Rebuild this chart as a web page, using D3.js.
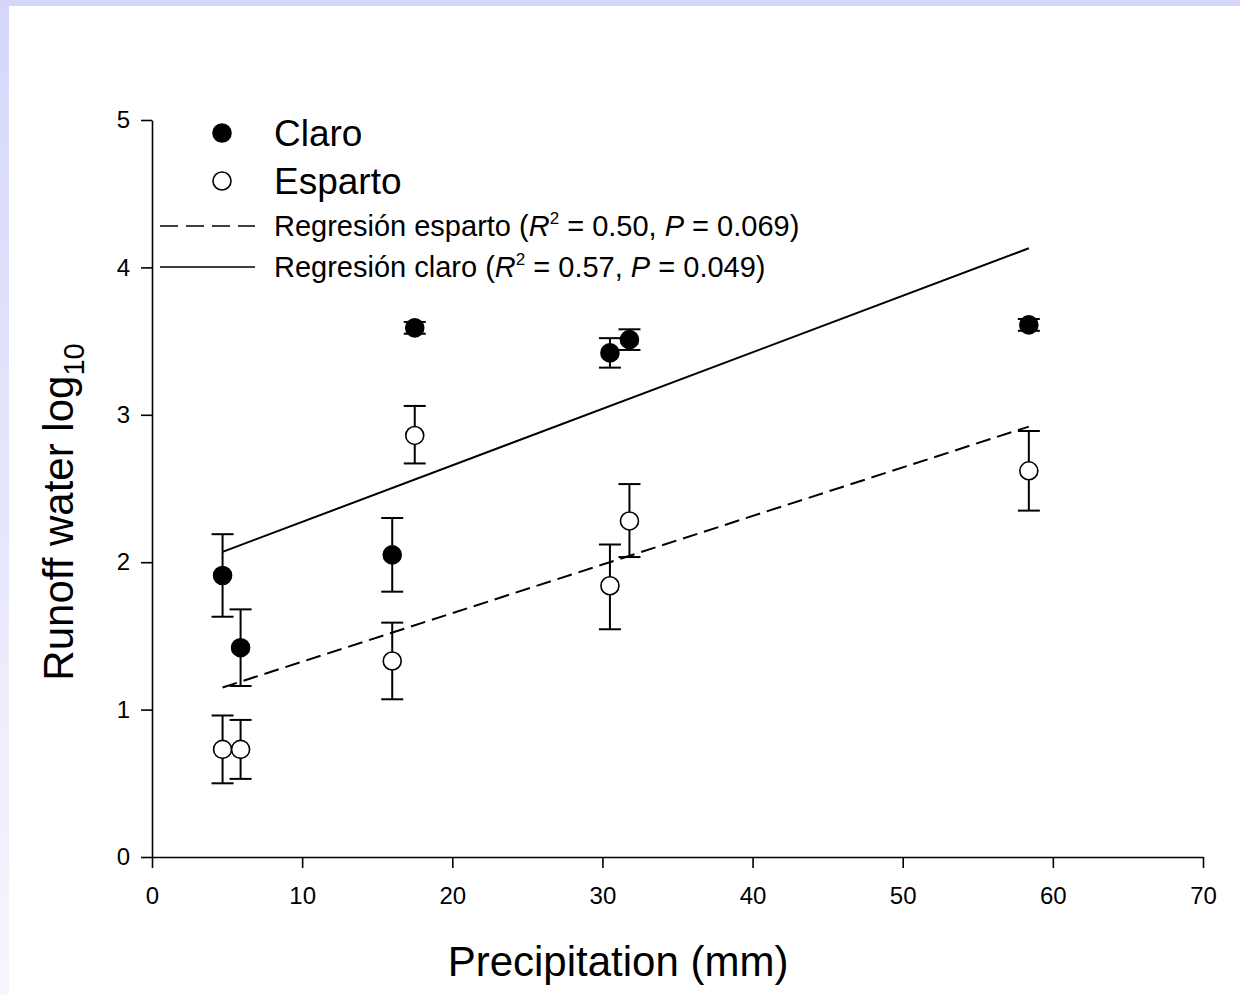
<!DOCTYPE html>
<html>
<head>
<meta charset="utf-8">
<script src="https://cdn.jsdelivr.net/npm/d3@7"></script>
<style>
  html, body { margin: 0; padding: 0; background: #fff; }
  svg { display: block; font-family: Arial, "Liberation Sans", sans-serif; }
</style>
</head>
<body>
<svg id="chart" width="1240" height="995"></svg>
<script>
// ---- data ----
const precip = [4.7, 5.9, 16.0, 17.5, 30.5, 31.8, 58.4];
const claroMean = [1.91, 1.42, 2.05, 3.59, 3.42, 3.51, 3.61];
const claroLow  = [1.63, 1.16, 1.80, 3.55, 3.32, 3.44, 3.57];
const claroHigh = [2.19, 1.68, 2.30, 3.63, 3.52, 3.58, 3.65];
const espartoMean = [0.73, 0.73, 1.33, 2.86, 1.84, 2.28, 2.62];
const espartoLow  = [0.50, 0.53, 1.07, 2.67, 1.545, 2.035, 2.35];
const espartoHigh = [0.96, 0.93, 1.59, 3.06, 2.12, 2.53, 2.89];
const regX = [4.7, 58.4];
const regClaroY = [2.07, 4.13];
const regEspartoY = [1.15, 2.92];
const xTicks = [0, 10, 20, 30, 40, 50, 60, 70];
const yTicks = [0, 1, 2, 3, 4, 5];

const svg = d3.select("#chart");

// background frame
const defs = svg.append("defs");
const grad = defs.append("linearGradient").attr("id", "lg").attr("x1", 0).attr("y1", 0).attr("x2", 0).attr("y2", 1);
grad.append("stop").attr("offset", "0%").attr("stop-color", "rgb(214,214,250)");
grad.append("stop").attr("offset", "100%").attr("stop-color", "rgb(246,246,254)");
svg.append("rect").attr("x", 0).attr("y", 0).attr("width", 9).attr("height", 995).attr("fill", "url(#lg)");
svg.append("rect").attr("x", 0).attr("y", 0).attr("width", 1240).attr("height", 6).attr("fill", "rgb(214,214,250)");

const x = d3.scaleLinear().domain([0, 70]).range([152, 1203]);
const y = d3.scaleLinear().domain([0, 5]).range([857, 120]);

// axes
const xAxis = d3.axisBottom(x).tickValues(xTicks).tickFormat(d3.format("d")).tickSize(11).tickPadding(19).tickSizeOuter(0);
const yAxis = d3.axisLeft(y).tickValues(yTicks).tickFormat(d3.format("d")).tickSize(11).tickPadding(11).tickSizeOuter(0);

const gx = svg.append("g").attr("transform", `translate(0,${y(0)})`).call(xAxis);
const gy = svg.append("g").attr("transform", `translate(${x(0)},0)`).call(yAxis);
[gx, gy].forEach(g => {
  g.attr("font-size", null).attr("font-family", null);
  g.select(".domain").attr("stroke", "#000").attr("stroke-width", 1.6);
  g.selectAll(".tick line").attr("stroke", "#000").attr("stroke-width", 1.6);
  g.selectAll(".tick text").attr("fill", "#000").style("font-size", "24px");
});

// regression lines
const line = d3.line().x(d => x(d[0])).y(d => y(d[1]));
svg.append("path").datum(regX.map((v, i) => [v, regClaroY[i]]))
  .attr("d", line).attr("stroke", "#000").attr("stroke-width", 2).attr("fill", "none");
svg.append("path").datum(regX.map((v, i) => [v, regEspartoY[i]]))
  .attr("d", line).attr("stroke", "#000").attr("stroke-width", 2).attr("fill", "none")
  .attr("stroke-dasharray", "15,7");

// error bars + points
function drawSeries(mean, low, high, filled) {
  const g = svg.append("g");
  const data = precip.map((p, i) => ({p, m: mean[i], lo: low[i], hi: high[i]}));
  const cap = 11;
  data.forEach(d => {
    g.append("line").attr("x1", x(d.p)).attr("x2", x(d.p)).attr("y1", y(d.lo)).attr("y2", y(d.hi))
      .attr("stroke", "#000").attr("stroke-width", 2);
    [d.lo, d.hi].forEach(v => {
      g.append("line").attr("x1", x(d.p) - cap).attr("x2", x(d.p) + cap).attr("y1", y(v)).attr("y2", y(v))
        .attr("stroke", "#000").attr("stroke-width", 2);
    });
  });
  g.selectAll("circle").data(data).join("circle")
    .attr("cx", d => x(d.p)).attr("cy", d => y(d.m)).attr("r", 9)
    .attr("fill", filled ? "#000" : "#fff").attr("stroke", "#000").attr("stroke-width", 1.6);
}
drawSeries(espartoMean, espartoLow, espartoHigh, false);
drawSeries(claroMean, claroLow, claroHigh, true);

// legend
const lg = svg.append("g");
lg.append("circle").attr("cx", 222).attr("cy", 133).attr("r", 9).attr("fill", "#000").attr("stroke", "#000").attr("stroke-width", 1.6);
lg.append("text").attr("x", 274).attr("y", 146).attr("font-size", 37).text("Claro");
lg.append("circle").attr("cx", 222).attr("cy", 181).attr("r", 9).attr("fill", "#fff").attr("stroke", "#000").attr("stroke-width", 1.6);
lg.append("text").attr("x", 274).attr("y", 194).attr("font-size", 37).text("Esparto");
lg.append("line").attr("x1", 160).attr("x2", 255).attr("y1", 226).attr("y2", 226).attr("stroke", "#000").attr("stroke-width", 1.6).attr("stroke-dasharray", "18,8");
lg.append("line").attr("x1", 160).attr("x2", 255).attr("y1", 267).attr("y2", 267).attr("stroke", "#000").attr("stroke-width", 1.6);

function regLabel(yPos, name, r2, p) {
  const t = lg.append("text").attr("x", 274).attr("y", yPos).attr("font-size", 29);
  t.append("tspan").text(`Regresión ${name} (`);
  t.append("tspan").attr("font-style", "italic").text("R");
  t.append("tspan").attr("font-size", 17).attr("dy", -12).text("2");
  t.append("tspan").attr("dy", 12).text(` = ${r2}, `);
  t.append("tspan").attr("font-style", "italic").text("P");
  t.append("tspan").text(` = ${p})`);
}
regLabel(236, "esparto", "0.50", "0.069");
regLabel(277, "claro", "0.57", "0.049");

// axis titles
svg.append("text").attr("x", 618).attr("y", 976).attr("text-anchor", "middle").attr("font-size", 42).text("Precipitation (mm)");
const yt = svg.append("text").attr("transform", "translate(73,512) rotate(-90)").attr("text-anchor", "middle").attr("font-size", 42);
yt.append("tspan").text("Runoff water log");
yt.append("tspan").attr("font-size", 29).attr("dy", 11).text("10");
</script>
</body>
</html>
